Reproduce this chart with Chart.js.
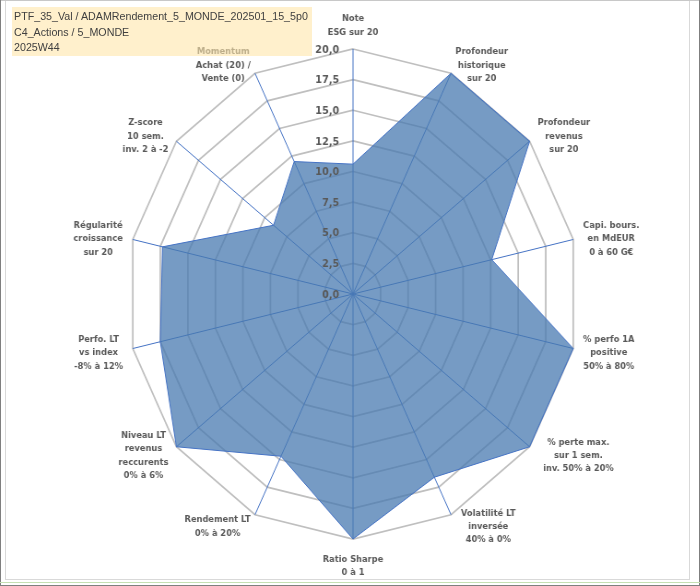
<!DOCTYPE html>
<html>
<head>
<meta charset="utf-8">
<script src="https://cdn.jsdelivr.net/npm/chart.js@4.4.1/dist/chart.umd.min.js"></script>
<style>
  html, body { margin: 0; padding: 0; background: #fff; }
  #page { position: relative; width: 700px; height: 586px; overflow: hidden; background: #fff; }
  /* the reference radar is an ellipse: squeeze the whole drawing horizontally */
  #wrap { position: absolute; left: 0; top: 0; width: 700px; height: 586px;
          transform: scaleX(0.922); transform-origin: 353px 0; }
  #title { position: absolute; left: 12px; top: 7px; width: 298px; height: 47px;
           padding: 2px 0 0 2px; background: rgba(255, 230, 170, 0.6);
           font: 10.7px "Liberation Sans", Arial, sans-serif; color: #404040;
           line-height: 15.5px; white-space: nowrap; z-index: 5; }
  .ln { position: absolute; }
</style>
</head>
<body>
<div id="page">
  <div class="ln" style="left:5px;top:0;width:685px;height:580px;border:1px solid #D9D9D9;box-sizing:border-box;"></div>
  <div class="ln" style="left:0;top:0;width:700px;height:1px;background:#C8C8C8;"></div>
  <div class="ln" style="left:0;top:0;width:1px;height:586px;background:#7F7F7F;"></div>
  <div class="ln" style="left:699px;top:0;width:1px;height:586px;background:#7F7F7F;"></div>
  <div class="ln" style="left:0;top:582px;width:700px;height:1px;background:#C5E0B3;"></div>
  <div class="ln" style="left:0;top:585px;width:700px;height:1px;background:#7F7F7F;"></div>
  <div id="wrap"><canvas id="radar"></canvas></div>
  <div id="title">PTF_35_Val / ADAMRendement_5_MONDE_202501_15_5p0<br>C4_Actions / 5_MONDE<br>2025W44</div>
</div>
<script>
const categories = [
  ['Note', 'ESG sur 20'],
  ['Profondeur', 'historique', 'sur 20'],
  ['Profondeur', 'revenus', 'sur 20'],
  ['Capi. bours.', 'en MdEUR', '0 à 60 G€'],
  ['% perfo 1A', 'positive', '50% à 80%'],
  ['% perte max.', 'sur 1 sem.', 'inv. 50% à 20%'],
  ['Volatilité LT', 'inversée', '40% à 0%'],
  ['Ratio Sharpe', '0 à 1'],
  ['Rendement LT', '0% à 20%'],
  ['Niveau LT', 'revenus', 'reccurents', '0% à 6%'],
  ['Perfo. LT', 'vs index', '-8% à 12%'],
  ['Régularité', 'croissance', 'sur 20'],
  ['Z-score', '10 sem.', 'inv. 2 à -2'],
  ['Momentum', 'Achat (20) /', 'Vente (0)']
];
const scores = [10.6, 20, 20, 12.6, 20, 20, 16.6, 20, 14.7, 20, 17.5, 17.3, 9.0, 12.0];
const tickLabels = ['0,0', '2,5', '5,0', '7,5', '10,0', '12,5', '15,0', '17,5', '20,0'];

// Excel style labels: ticks left of the vertical axis, point labels in blocks
const excelLabels = {
  id: 'excelLabels',
  afterDraw(chart) {
    const r = chart.scales.r;
    const ctx = chart.ctx;
    ctx.save();
    ctx.fillStyle = '#595959';
    ctx.textBaseline = 'middle';

    ctx.font = 'bold 10.5px "DejaVu Sans"';
    ctx.textAlign = 'right';
    r.ticks.forEach((t, i) => {
      const d = r.getDistanceFromCenterForValue(t.value);
      ctx.fillText(tickLabels[i], r.xCenter - 15, r.yCenter - d + 1);
    });

    ctx.font = 'bold 9px "DejaVu Sans"';
    ctx.textAlign = 'center';
    const lh = 13.4;
    categories.forEach((lines, i) => {
      const p = r.getPointPosition(i, r.drawingArea + 11);
      const dx = p.x - r.xCenter;
      const w = Math.max(...lines.map(s => ctx.measureText(s).width));
      const h = lines.length * lh;
      let cx = p.x, cy = p.y + 2;
      if (dx > 5) cx = p.x + w / 2 + (p.y > r.yCenter + 150 ? 6 : 0);
      else if (dx < -5) cx = p.x - w / 2;
      else cy = p.y < r.yCenter ? p.y - h / 2 + 1 : p.y + h / 2 + 3;
      lines.forEach((s, k) => ctx.fillText(s, cx, cy - h / 2 + lh * (k + 0.5)));
    });
    ctx.restore();
  }
};

new Chart(document.getElementById('radar'), {
  type: 'radar',
  data: {
    labels: categories,
    datasets: [{
      data: scores,
      fill: true,
      backgroundColor: 'rgba(72, 122, 176, 0.75)',
      borderColor: '#4472C4',
      borderWidth: 1,
      pointRadius: 0
    }]
  },
  options: {
    responsive: true,
    maintainAspectRatio: false,
    animation: false,
    layout: { padding: { left: 108, right: 102, top: 49, bottom: 47 } },
    plugins: { legend: { display: false }, tooltip: { enabled: false }, title: { display: false } },
    scales: {
      r: {
        min: 0,
        max: 20,
        ticks: { stepSize: 2.5, display: false, callback: (v, i) => tickLabels[i] },
        grid: { color: '#BFBFBF', lineWidth: 1.75 },
        angleLines: { color: '#4472C4', lineWidth: 1 },
        pointLabels: { display: false }
      }
    }
  },
  plugins: [excelLabels]
});
</script>
</body>
</html>
